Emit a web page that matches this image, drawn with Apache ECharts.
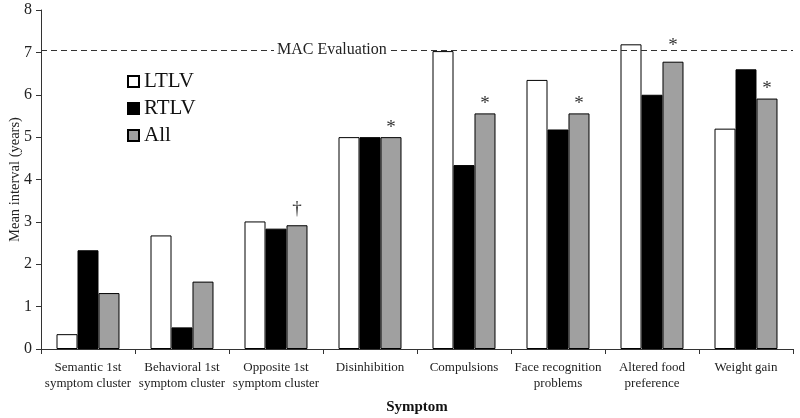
<!DOCTYPE html>
<html><head><meta charset="utf-8">
<script src="https://cdn.jsdelivr.net/npm/echarts@6/dist/echarts.min.js"></script>
<style>html,body{margin:0;padding:0;background:#fff}#c{width:800px;height:418px}</style>
</head><body><div id="c"></div>
<script>
const categories = ['Semantic 1st\nsymptom cluster','Behavioral 1st\nsymptom cluster','Opposite 1st\nsymptom cluster','Disinhibition','Compulsions','Face recognition\nproblems','Altered food\npreference','Weight gain'];
const ltlv = [0.35, 2.68, 3.01, 5.0, 7.03, 6.35, 7.19, 5.2];
const rtlv = [2.33, 0.51, 2.84, 5.0, 4.34, 5.18, 6.0, 6.6];
const all = [1.32, 1.59, 2.92, 5.0, 5.56, 5.56, 6.78, 5.91];
const marks = ['', '', '\u2020', '*', '*', '*', '*', '*'];
const macValue = 7.05;
const yTicks = [0,1,2,3,4,5,6,7,8];

const font = 'Liberation Serif';
const chart = echarts.init(document.getElementById('c'));
const base = {type:'bar', barGap:'0%', barCategoryGap:'33%'};
const allData = all.map((v, i) => {
  if (marks[i] === '\u2020') return {value:v, label:{distance:7}};
  if (marks[i] && v > macValue - 0.4) return {value:v, label:{distance:6}};
  return v;
});
chart.setOption({
  animation:false,
  textStyle:{fontFamily:font},
  grid:{left:41, right:7, top:10, bottom:69, containLabel:false, outerBoundsMode:'none'},
  legend:{orient:'vertical', left:122, top:66, itemWidth:11, itemHeight:11, itemGap:6,
    textStyle:{fontFamily:font, fontSize:21, color:'#111'}, icon:'rect',
    data:['LTLV','RTLV','All']},
  xAxis:{type:'category', data:categories,
    name:'Symptom', nameLocation:'middle', nameGap:51, nameMoveOverlap:false,
    nameTextStyle:{fontFamily:font, fontSize:15, fontWeight:'bold', color:'#111'},
    axisLine:{lineStyle:{color:'#333'}},
    axisTick:{show:true, length:5, lineStyle:{color:'#333'}},
    axisLabel:{fontFamily:font, fontSize:13, color:'#222', margin:11, lineHeight:16, interval:0}},
  yAxis:{type:'value', min:0, max:8, interval:1,
    name:'Mean interval (years)', nameLocation:'middle', nameGap:18, nameMoveOverlap:false,
    nameTextStyle:{fontFamily:font, fontSize:14.5, color:'#222'},
    splitLine:{show:false},
    axisLine:{show:true, lineStyle:{color:'#333'}},
    axisTick:{show:true, length:5, lineStyle:{color:'#333'}},
    axisLabel:{fontFamily:font, fontSize:16, color:'#222', margin:9,
      formatter:v=>yTicks.includes(v)?String(v):''}},
  series:[
    Object.assign({}, base, {name:'LTLV', data:ltlv, itemStyle:{color:'#fff', borderColor:'#000', borderWidth:1},
      markLine:{silent:true, symbol:['none','none'], label:{show:false},
        lineStyle:{type:[6,4], color:'#333', width:1}, data:[{yAxis:macValue}]}}),
    Object.assign({}, base, {name:'RTLV', data:rtlv, itemStyle:{color:'#000', borderColor:'#000', borderWidth:1}}),
    Object.assign({}, base, {name:'All', data:allData, itemStyle:{color:'#a0a0a0', borderColor:'#000', borderWidth:1},
      label:{show:true, position:'top', distance:0, fontFamily:font, fontSize:19, color:'#333',
        formatter:p=>marks[p.dataIndex]}})
  ]
});
const p = chart.convertToPixel({yAxisIndex:0}, macValue);
chart.setOption({graphic:[{type:'text', left:274, top:p-9, style:{text:'MAC Evaluation', font:'16px "Liberation Serif"', fill:'#222', backgroundColor:'#fff', padding:[1,3]}, z:10}]});
</script></body></html>
